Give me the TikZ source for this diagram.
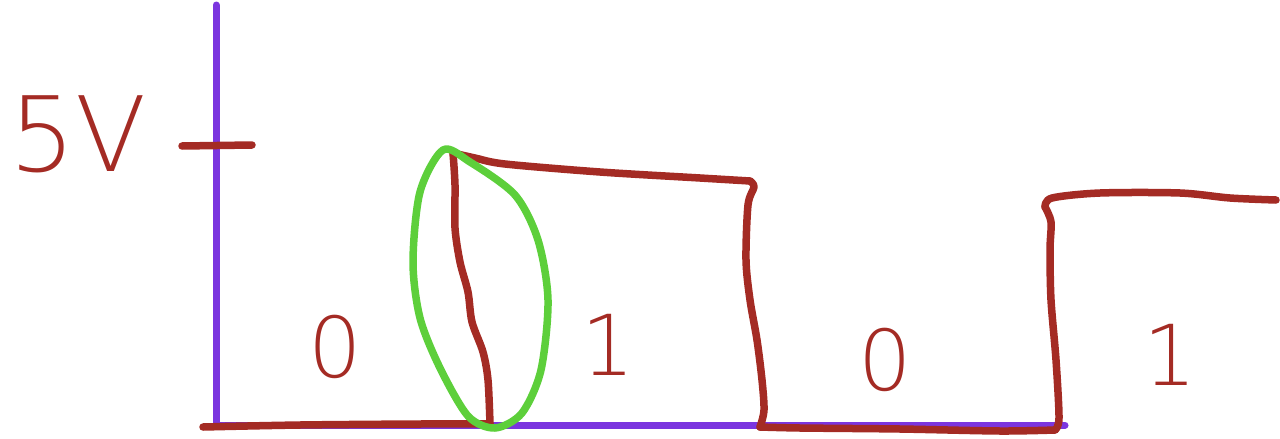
\documentclass[tikz,border=0pt]{standalone}
\usepackage{fontspec}
\newfontfamily\handfont{DejaVu Sans ExtraLight}
\definecolor{axispurple}{HTML}{7B35DF}
\definecolor{sigred}{HTML}{A42B24}
\definecolor{hlgreen}{HTML}{5DCF3B}
\tikzset{
  axisline/.style={draw=axispurple, line width=7pt, line cap=round},
  sigline/.style={draw=sigred, line width=7.5pt, line cap=round, line join=round},
  hlline/.style={draw=hlgreen, line width=7.5pt, line cap=round, line join=round},
  bitlabel/.style={text=sigred, font=\handfont\fontsize{84}{84}\selectfont, inner sep=0pt},
  voltlabel/.style={text=sigred, font=\handfont\fontsize{104}{104}\selectfont, inner sep=0pt}
}
\begin{document}
\begin{tikzpicture}[x=1pt,y=-1pt]
\useasboundingbox (0,0) rectangle (1280,439);
% axes
\coordinate (origin) at (216,425);
\coordinate (ytop) at (216,5);
\coordinate (xend) at (1065,425);
\draw[axisline] (ytop) -- (origin) -- (xend);
% tick at 5V
\coordinate (tickL) at (182,146);
\coordinate (tickR) at (252,145);
\draw[sigline] (tickL) -- (tickR);
\node[voltlabel] (volt) at (78,134) {5V};
% signal
\draw[sigline] plot[smooth] coordinates {(203,427) (300,425) (420,424) (490,424)};
\draw[sigline] plot[smooth] coordinates {(490,424) (488,380) (483,352) (472,322) (468,292) (460,262) (455,228) (455,185) (453,153)};
\draw[sigline] plot[smooth] coordinates {(453,153) (475,158) (505,164) (600,172) (700,178) (750,181)};
\draw[sigline] plot[smooth] coordinates {(750,181) (754,187) (748,205) (746,260) (750,300) (757,340) (762,380) (764,410) (760,427)};
\draw[sigline] plot[smooth] coordinates {(760,427) (800,428) (900,429) (1000,431) (1055,430)};
\draw[sigline] plot[smooth] coordinates {(1055,430) (1059,418) (1056,360) (1051,300) (1050,250) (1051,222) (1045,207)};
\draw[sigline] plot[smooth] coordinates {(1045,207) (1052,198) (1100,193) (1180,193) (1230,198) (1276,200)};
% highlight
\draw[hlline] plot[smooth cycle] coordinates {(443,150) (470,162) (515,195) (538,240) (548,300) (541,370) (522,413) (495,428) (468,416) (440,368) (420,318) (413,262) (420,192)};
% bit labels
\node[bitlabel] (b0) at (335,347) {0};
\node[bitlabel] (b1) at (608,345) {1};
\node[bitlabel] (b2) at (885,360) {0};
\node[bitlabel] (b3) at (1170,355) {1};
\end{tikzpicture}
\end{document}
